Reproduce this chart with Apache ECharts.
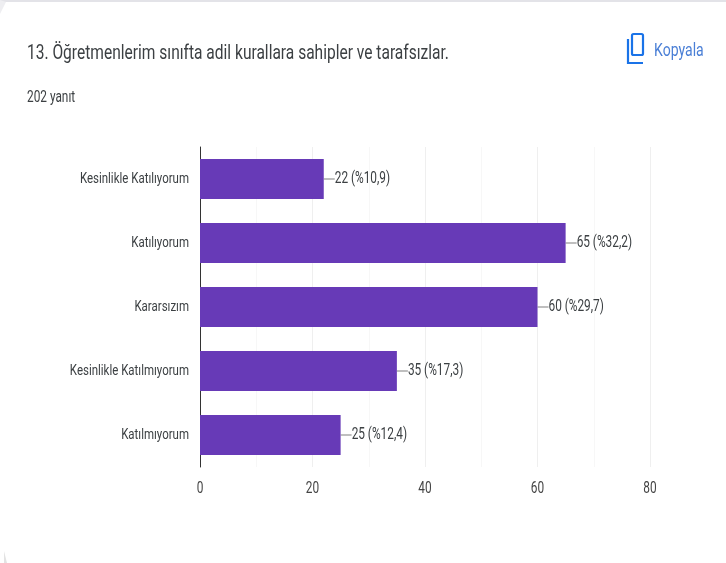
<!DOCTYPE html>
<html><head><meta charset="utf-8">
<style>html,body{margin:0;padding:0;background:#fff}#c{width:726px;height:563px}</style>
<script src="https://cdn.jsdelivr.net/npm/echarts@6/dist/echarts.min.js"></script>
</head><body><div id="c"></div>
<script>
const categories = ["Kesinlikle Katılıyorum","Katılıyorum","Kararsızım","Kesinlikle Katılmıyorum","Katılmıyorum"];
const values = [22,65,60,35,25];
const percents = ["10,9","32,2","29,7","17,3","12,4"];
const titleText = "13. Öğretmenlerim sınıfta adil kurallara sahipler ve tarafsızlar.";
const subtitleText = "202 yanıt";
const copyText = "Kopyala";
const font = 'Roboto,sans-serif';

// The reference's lettering is horizontally condensed and no condensed face is installed,
// so text drawn on the canvas is narrowed around its anchor, and measured the same way.
const squeeze = 0.74;
const proto = CanvasRenderingContext2D.prototype;
const fill0 = proto.fillText, measure0 = proto.measureText;
proto.fillText = function(t, x, y, m){
  this.save(); this.translate(x, y); this.scale(squeeze, 1);
  fill0.call(this, t, 0, 0, m); this.restore();
};
proto.measureText = function(t){
  const r = measure0.call(this, t), w = r.width * squeeze;
  Object.defineProperty(r, 'width', {value: w});
  return r;
};

const chart = echarts.init(document.getElementById('c'),null,{renderer:'canvas'});
chart.setOption({
  animation:false,
  backgroundColor:'#fff',
  title:[
    {text:titleText,left:22,top:41,textStyle:{fontFamily:font,fontSize:21,fontWeight:'normal',color:'#3c4043'}},
    {text:subtitleText,left:22,top:87,textStyle:{fontFamily:font,fontSize:16,fontWeight:'normal',color:'#3c4043'}},
    {text:copyText,left:649,top:39,textStyle:{fontFamily:font,fontSize:19,fontWeight:'normal',color:'#4a7fd6'}}
  ],
  grid:{left:200,top:147,width:450,height:320,containLabel:false},
  xAxis:{type:'value',min:0,max:80,interval:20,
    axisLine:{show:false},axisTick:{show:false},
    axisLabel:{fontFamily:font,fontSize:16,color:'#444',margin:16},
    splitLine:{lineStyle:{color:'#efefef',width:1}},
    minorTick:{show:false,splitNumber:2},
    minorSplitLine:{show:true,lineStyle:{color:'#f7f7f7',width:1}}
  },
  yAxis:{type:'category',data:categories,inverse:true,
    axisLine:{show:true,onZero:false,lineStyle:{color:'#333',width:1}},axisTick:{show:false},
    axisLabel:{fontFamily:font,fontSize:15.5,color:'#3c4043',margin:11},
    splitLine:{show:false}
  },
  series:[{
    type:'bar',data:values,barWidth:40,
    itemStyle:{color:'#673ab7'},
    label:{show:true,position:'right',distance:0,fontFamily:font,fontSize:16,color:'#3c4043',
      formatter:p=>p.value+' (%'+percents[p.dataIndex]+')'},
    labelLayout:{dx:11},
    labelLine:{show:true,lineStyle:{color:'#aaa',width:1.5}}
  }],
  graphic:[
    {type:'rect',shape:{x:0,y:0,width:726,height:2},style:{fill:'#e3e3e8'},silent:true},
    {type:'polygon',shape:{points:[[0,0],[6,2],[3,8],[0,14]]},style:{fill:'#eeeef1'},silent:true},
    {type:'polygon',shape:{points:[[4,551],[7,563],[4,563]]},style:{fill:'#e3e3e3'},silent:true},
    {type:'rect',shape:{x:632,y:34,width:11,height:21,r:1.5},style:{fill:'none',stroke:'#1a73e8',lineWidth:2.2},silent:true},
    {type:'polyline',shape:{points:[[628,39],[628,63],[643,63]]},style:{fill:'none',stroke:'#1a73e8',lineWidth:2.2},silent:true}
  ]
});
</script></body></html>
